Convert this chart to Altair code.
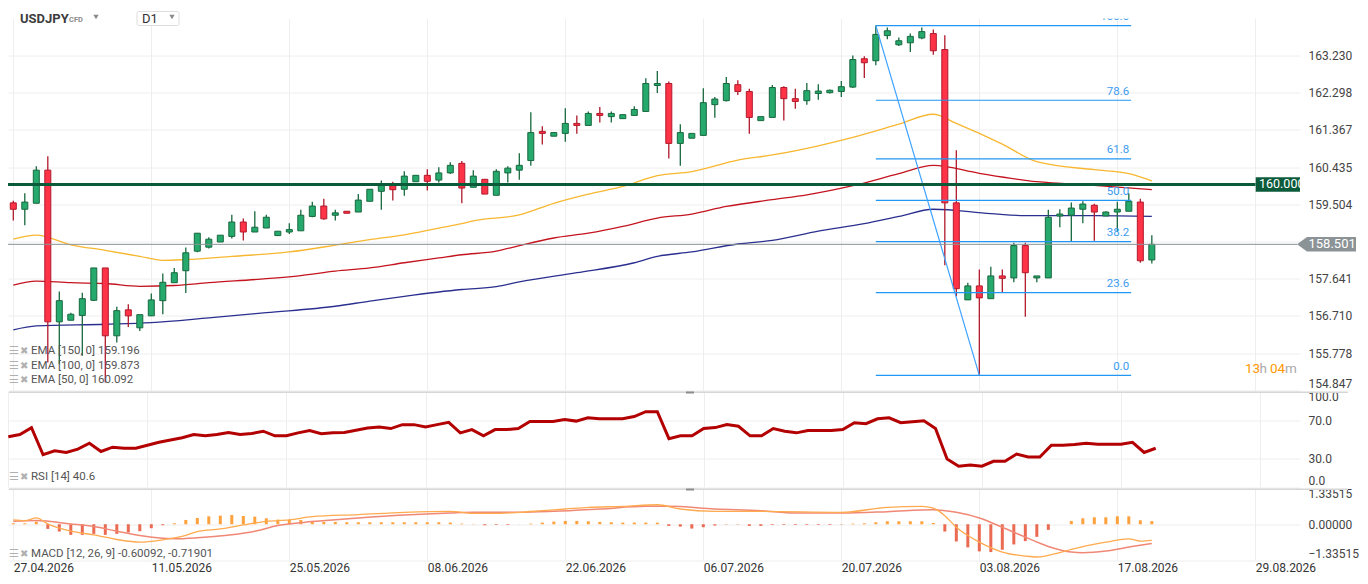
import altair as alt
import pandas as pd

FONT = "Roboto"

# ---------------- candles (USDJPY D1) ----------------
open_ = [159.54,159.38,159.53,160.36,156.56,156.60,156.72,157.10,157.91,156.21,
         156.86,156.41,156.71,157.09,157.54,157.84,158.33,158.43,158.56,158.70,
         159.06,158.81,158.91,158.72,158.81,158.84,159.20,159.46,159.23,159.33,
         159.31,159.58,159.83,159.97,159.88,160.07,160.23,160.11,160.29,160.53,
         159.93,160.13,159.73,160.29,160.36,160.60,161.33,161.21,161.28,161.53,
         161.48,161.78,161.70,161.65,161.73,161.83,162.48,162.53,161.03,161.16,
         161.23,162.00,162.10,162.50,162.33,161.60,161.68,162.43,162.15,162.10,
         162.28,162.30,162.33,162.44,163.15,163.10,163.73,163.50,163.55,163.67,
         163.78,163.38,159.54,157.11,157.46,157.14,157.71,157.66,158.47,157.66,
         157.66,159.21,159.23,159.38,159.48,159.21,159.31,159.33,159.56,158.11]
high_ = [159.59,159.78,160.46,160.71,157.32,156.79,157.29,157.91,157.91,156.94,
         157.00,156.74,157.27,157.77,157.91,158.42,158.78,158.68,158.73,159.24,
         159.15,159.33,159.24,158.83,159.03,159.37,159.57,159.64,159.37,159.33,
         159.76,159.88,160.10,160.07,160.33,160.23,160.38,160.43,160.56,160.59,
         160.36,160.13,160.38,160.46,160.78,161.81,161.46,161.30,161.91,161.73,
         161.83,161.94,161.83,161.75,161.96,162.66,162.84,162.58,161.51,161.28,
         162.41,162.19,162.69,162.61,162.40,161.70,162.49,162.46,162.40,162.54,
         162.51,162.38,162.59,163.23,163.21,163.98,163.93,163.68,163.78,163.93,
         163.88,163.74,160.86,157.54,157.87,157.94,157.87,158.54,158.54,157.71,
         159.37,159.38,159.55,159.58,159.52,159.33,159.57,159.78,159.64,158.73]
low_ = [159.10,158.98,159.53,155.54,155.50,156.60,155.71,157.08,155.04,156.04,
        156.43,156.33,156.71,156.75,157.54,157.28,158.30,158.40,158.56,158.65,
        158.60,158.81,158.91,158.72,158.76,158.84,159.18,159.12,159.10,159.28,
        159.31,159.58,159.37,159.60,159.72,160.07,159.85,160.05,160.26,159.53,
        159.93,159.76,159.73,160.05,160.12,160.47,161.00,161.21,161.07,161.27,
        161.48,161.55,161.55,161.65,161.73,161.83,162.29,160.65,160.47,161.16,
        161.23,161.67,162.08,162.24,161.27,161.60,161.68,161.60,161.90,162.00,
        162.12,162.28,162.19,162.42,162.67,162.99,163.64,163.47,163.32,163.64,
        163.25,157.98,157.20,157.11,155.22,157.14,157.29,157.55,156.69,157.55,
        157.66,158.93,158.56,159.03,158.59,159.21,158.81,159.33,158.04,158.02]
close_ = [159.38,159.56,160.36,156.56,157.09,156.75,157.14,157.91,156.21,156.84,
          156.71,156.74,157.11,157.55,157.79,158.29,158.78,158.63,158.73,159.06,
          158.81,158.93,159.18,158.83,158.87,159.23,159.46,159.14,159.29,159.28,
          159.61,159.88,160.02,159.87,160.21,160.23,160.08,160.29,160.48,159.91,
          160.21,159.76,160.33,160.41,160.48,161.30,161.28,161.30,161.53,161.48,
          161.78,161.73,161.78,161.75,161.88,162.53,162.53,161.03,161.30,161.28,
          162.05,162.14,162.53,162.33,161.68,161.70,162.43,162.15,162.08,162.35,
          162.34,162.36,162.45,163.13,163.05,163.76,163.85,163.60,163.71,163.83,
          163.35,159.54,157.39,157.46,157.16,157.71,157.65,158.47,157.79,157.71,
          159.18,159.26,159.41,159.51,159.31,159.31,159.38,159.58,158.09,158.501]

# ---------------- moving averages (read at sample candles) ----------------
ema50_i = [0,2,5,8,11,13,15,19,24,28,31,34,37,39,40,44,47,50,53,56,59,63,66,70,73,77,80,82,86,89,94,97,99]
ema50_v = [158.63,158.73,158.49,158.35,158.20,158.10,158.12,158.20,158.31,158.48,158.62,158.74,158.91,
           159.02,159.09,159.24,159.53,159.76,159.95,160.22,160.32,160.61,160.74,160.97,161.18,161.51,
           161.76,161.53,161.01,160.57,160.37,160.27,160.09]
ema100_i = [0,2,5,8,11,14,17,22,25,28,31,34,37,39,42,44,47,50,53,56,59,62,66,69,73,77,80,84,89,94,99]
ema100_v = [157.48,157.58,157.54,157.52,157.45,157.47,157.54,157.64,157.72,157.83,157.91,158.04,158.16,
            158.24,158.33,158.47,158.66,158.78,158.95,159.16,159.26,159.45,159.62,159.74,159.97,160.27,
            160.48,160.28,160.07,159.98,159.87]
ema150_i = [0,2,8,12,17,22,28,31,34,39,42,44,49,54,56,59,63,66,70,74,77,80,85,88,94,99]
ema150_v = [156.36,156.46,156.50,156.54,156.66,156.79,156.95,157.08,157.20,157.37,157.44,157.56,157.79,
            158.04,158.20,158.31,158.51,158.60,158.83,159.02,159.20,159.38,159.27,159.22,159.22,159.20]

# ---------------- RSI(14) ----------------
rsi_v = [52.6,55.0,62.2,33.8,37.9,36.2,39.6,45.8,37.2,41.7,
         40.6,40.6,43.7,46.8,49.2,51.6,55.0,53.6,55.0,57.1,
         55.0,56.0,58.4,53.6,53.6,56.7,59.1,55.7,56.7,57.1,
         59.5,61.8,62.9,61.2,65.3,65.3,62.9,65.3,67.7,56.7,
         60.1,53.6,60.1,60.1,61.2,68.7,68.7,68.7,70.7,69.0,
         72.4,71.4,71.4,71.4,73.8,78.9,78.9,50.6,53.6,53.6,
         61.2,62.2,65.3,63.6,53.6,53.6,61.2,58.4,56.7,59.1,
         59.1,59.1,60.1,67.3,66.3,71.4,72.4,67.3,68.3,69.4,
         61.2,29.4,21.8,22.9,21.8,26.9,26.9,34.5,31.4,31.4,
         43.7,43.7,44.4,45.8,44.7,44.7,44.7,46.8,36.2,40.6]

# ---------------- MACD(12,26,9) ----------------
hist_v = [0.037,0.037,0.099,-0.173,-0.272,-0.396,-0.396,-0.359,-0.396,-0.359,
          -0.309,-0.260,-0.148,-0.037,0.037,0.161,0.235,0.297,0.321,0.346,
          0.309,0.284,0.223,0.173,0.173,0.161,0.124,0.087,0.087,0.074,
          0.074,0.074,0.074,0.074,0.074,0.074,0.074,0.074,0.062,0.025,
          0.012,-0.037,-0.025,-0.025,0.005,0.025,0.062,0.099,0.124,0.124,
          0.111,0.087,0.074,0.062,0.062,0.062,0.062,-0.062,-0.087,-0.161,
          -0.111,-0.049,-0.012,-0.012,-0.062,-0.062,-0.025,-0.025,-0.025,-0.025,
          -0.025,-0.025,-0.012,0.025,0.037,0.074,0.111,0.111,0.111,0.111,
          0.049,-0.272,-0.643,-0.865,-1.014,-1.039,-0.952,-0.754,-0.630,-0.470,
          -0.210,0.0,0.124,0.223,0.260,0.260,0.297,0.297,0.148,0.118]
macd_i = [0,1,2,3,5,7,9,11,13,15,16,18,20,22,24,26,30,34,38,40,42,44,46,48,50,53,56,58,61,65,72,76,79,80,81,82,83,84,86,88,89,90,91,92,95,97,98,99]
macd_v = [0.161,0.136,0.235,0.012,-0.260,-0.396,-0.569,-0.668,-0.581,-0.420,-0.272,-0.173,-0.025,0.111,0.161,
          0.285,0.359,0.445,0.482,0.408,0.408,0.445,0.507,0.569,0.631,0.668,0.729,0.569,0.482,0.482,0.445,
          0.631,0.668,0.606,0.321,-0.111,-0.420,-0.668,-1.039,-1.187,-1.224,-1.162,-1.063,-0.940,-0.668,
          -0.544,-0.631,-0.601]
sig_i = [0,2,5,7,9,11,14,16,19,21,23,26,30,34,38,40,44,47,51,55,57,61,65,68,72,76,80,82,84,86,88,90,92,93,95,97,99]
sig_v = [0.111,0.136,0.012,-0.087,-0.260,-0.420,-0.544,-0.507,-0.396,-0.260,-0.049,0.099,0.235,0.346,0.420,
         0.445,0.445,0.482,0.569,0.668,0.668,0.569,0.507,0.420,0.420,0.470,0.544,0.445,0.235,-0.111,-0.482,
         -0.828,-1.039,-1.063,-1.001,-0.853,-0.719]

# ---------------- Fibonacci retracement ----------------
fib_levels = ["0.0", "23.6", "38.2", "50.0", "61.8", "78.6", "100.0"]
fib_prices = [155.22, 157.29, 158.57, 159.60, 160.64, 162.11, 163.98]
fib_from, fib_to = 75, 97.2
swing_i = [75, 84]
swing_p = [163.98, 155.22]

level_price = 160.0
last_price = 158.501

# ---------------- axes ----------------
tick_idx = [0, 12, 24, 36, 48, 60, 72, 84, 96, 108]
tick_lbl = ["27.04.2026", "11.05.2026", "25.05.2026", "08.06.2026", "22.06.2026",
            "06.07.2026", "20.07.2026", "03.08.2026", "17.08.2026", "29.08.2026"]
price_ticks = [163.230, 162.298, 161.367, 160.435, 159.504, 158.573, 157.641, 156.710, 155.778, 154.847]
rsi_ticks = [0, 30, 70, 100]
macd_ticks = [-1.33515, 0, 1.33515]

W = 1292
H_PRICE = 372
H_RSI = 95.5
H_MACD = 71.5
GRID = "#eeeeee"
SEP = "#d6d6d6"

GREEN_FILL, GREEN_LINE = "#26a96c", "#17683f"
RED_FILL, RED_LINE = "#ff3347", "#b0192b"

n = len(close_)
candles = pd.DataFrame({"i": list(range(n)), "o": open_, "h": high_, "l": low_, "c": close_})
candles["dir"] = ["up" if cc >= oo else "down" for oo, cc in zip(open_, close_)]
up_c = candles[candles["dir"] == "up"]
dn_c = candles[candles["dir"] == "down"]

xscale = alt.Scale(domain=[-0.026, 111.45], nice=False, zero=False)
lbl_js = "[" + ",".join("'%s'" % s for s in tick_lbl) + "][round(datum.value / 12)]"
ax_x_plain = alt.Axis(values=tick_idx, labels=False, ticks=False, domain=False, grid=True,
                      gridColor=GRID, title=None)
ax_x_lab = alt.Axis(values=tick_idx, labelExpr=lbl_js, labelAlign="left", labelPadding=2,
                    labelFontSize=12, labelColor="#333333", labelOverlap=False, labelFlush=False,
                    ticks=False, domain=False, grid=True, gridColor=GRID, title=None)


def X(field, axis=ax_x_plain):
    return alt.X(field, scale=xscale, axis=axis, title=None)


pscale = alt.Scale(domain=[154.84, 164.158], nice=False, zero=False)
ax_p = alt.Axis(orient="right", values=price_ticks,
                labelExpr="abs(datum.value - 158.573) < 0.0005 ? '' : format(datum.value, '.3f')",
                labelAlign="left", labelPadding=8, labelFontSize=12, labelColor="#444444",
                labelFlush=True, labelOverlap=False, ticks=False, domain=False, grid=True,
                gridColor=GRID, title=None)


def YP(field):
    return alt.Y(field, scale=pscale, axis=ax_p, title=None)


one = pd.DataFrame({"k": [0]})

# ---- price panel layers ----
def ema_layer(ii, vv, color):
    df = pd.DataFrame({"i": ii, "v": vv})
    return alt.Chart(df).mark_line(color=color, strokeWidth=1.3, clip=True, interpolate="monotone").encode(
        x=X("i:Q"), y=YP("v:Q"))


ema150 = ema_layer(ema150_i, ema150_v, "#2b2f8f")
ema100 = ema_layer(ema100_i, ema100_v, "#c4141f")
ema50 = ema_layer(ema50_i, ema50_v, "#f7b731")


def candle_layers(df, fill, line):
    wick = alt.Chart(df).mark_rule(strokeWidth=1.3, color=line, clip=True).encode(
        x=X("i:Q"), y=YP("l:Q"), y2="h:Q")
    body = alt.Chart(df).mark_bar(width=6, strokeWidth=1, fill=fill, stroke=line, clip=True).encode(
        x=X("i:Q"), y=YP("o:Q"), y2="c:Q")
    return [wick, body]


fib_df = pd.DataFrame({"lvl": fib_levels, "p": fib_prices, "x0": [fib_from] * len(fib_levels),
                       "x1": [fib_to] * len(fib_levels)})
fib_lines = alt.Chart(fib_df).mark_rule(color="#2196f3", strokeWidth=1.2, clip=True).encode(
    x=X("x0:Q"), x2="x1:Q", y=YP("p:Q"))
fib_text = alt.Chart(fib_df).mark_text(color="#3d9bf0", fontSize=11.5, align="right", baseline="middle",
                                       dx=-2, dy=-8.5, clip=True).encode(
    x=X("x1:Q"), y=YP("p:Q"), text="lvl:N")
swing = alt.Chart(pd.DataFrame({"i": swing_i, "p": swing_p})).mark_line(
    color="#3ea2ff", strokeWidth=1.2, clip=True).encode(x=X("i:Q"), y=YP("p:Q"))

# 160.000 horizontal level with its tag
lvl_df = pd.DataFrame({"v": [level_price], "t": ["%.3f" % level_price]})
DKG = "#0b5a3a"
lvl_line = alt.Chart(lvl_df).mark_rule(color=DKG, strokeWidth=3, clip=True).encode(
    x=alt.value(0), x2=alt.value(1247.5), y=YP("v:Q"))
lvl_box = alt.Chart(lvl_df).mark_point(shape="M-1,-0.332L1,-0.332L1,0.332L-1,0.332Z", size=1962,
                                       filled=True, color=DKG, opacity=1, strokeWidth=0).encode(
    x=alt.value(1269.85), y=YP("v:Q"))
lvl_txt = alt.Chart(lvl_df).mark_text(color="white", fontSize=12.5, align="left", baseline="middle",
                                      clip=True).encode(
    x=alt.value(1251), y=YP("v:Q"), text="t:N")

# last price line with its tag
last_df = pd.DataFrame({"v": [last_price], "t": ["%.3f" % last_price]})
GRAYP = "#8b9397"
last_line = alt.Chart(last_df).mark_rule(color=GRAYP, strokeWidth=1, clip=True).encode(
    x=alt.value(0), x2=alt.value(1289), y=YP("v:Q"))
last_box = alt.Chart(last_df).mark_point(shape="M-1,0L-0.661,-0.2458L1,-0.2458L1,0.2458L-0.661,0.2458Z",
                                         size=3481, filled=True, color=GRAYP, opacity=1,
                                         strokeWidth=0).encode(
    x=alt.value(1318.5), y=YP("v:Q"))
last_txt = alt.Chart(last_df).mark_text(color="white", fontSize=13, align="left", baseline="middle").encode(
    x=alt.value(1300.5), y=YP("v:Q"), text="t:N")


def label(text, x, y, size=12, color="#555555", weight="normal", align="left"):
    return alt.Chart(one).mark_text(text=text, fontSize=size, color=color, fontWeight=weight,
                                    align=align, baseline="middle").encode(x=alt.value(x), y=alt.value(y))


def tri(x, y):
    return alt.Chart(one).mark_point(shape="triangle-down", size=28, filled=True, color="#8a8a8a",
                                     opacity=1, strokeWidth=0).encode(x=alt.value(x), y=alt.value(y))


d1_box = alt.Chart(one).mark_rect(fill="white", stroke="#dddddd", strokeWidth=1, cornerRadius=2).encode(
    x=alt.value(129), x2=alt.value(171), y=alt.value(-7), y2=alt.value(7))

ICON = "#b0b0b0"
price_texts = [
    label("USDJPY", 12, 0, size=13, color="#3c3c3c", weight="bold"),
    label("CFD", 61, 1, size=7.5, color="#8a8a8a", weight="bold"),
    tri(88, -1.5),
    d1_box,
    label("D1", 134, 0.5, size=13, color="#333333"),
    tri(164, -1.5),
    label("☰", 1, 332.7, size=11, color=ICON),
    label("✖", 12, 332.7, size=10, color=ICON),
    label("EMA [150, 0] 159.196", 23, 332.7, size=11.5),
    label("☰", 1, 347.7, size=11, color=ICON),
    label("✖", 12, 347.7, size=10, color=ICON),
    label("EMA [100, 0] 159.873", 23, 347.7, size=11.5),
    label("☰", 1, 361.5, size=11, color=ICON),
    label("✖", 12, 361.5, size=10, color=ICON),
    label("EMA [50, 0] 160.092", 23, 361.5, size=11.5),
    label("13", 1237, 350.7, size=13.5, color="#ff9800"),
    label("h", 1251.5, 350.7, size=13.5, color="#a9a9a9"),
    label("04", 1262, 350.7, size=13.5, color="#ff9800"),
    label("m", 1277, 350.7, size=13.5, color="#a9a9a9"),
]

price = alt.layer(ema150, ema100, ema50, *candle_layers(up_c, GREEN_FILL, GREEN_LINE),
                  *candle_layers(dn_c, RED_FILL, RED_LINE), fib_lines, swing,
                  lvl_line, lvl_box, lvl_txt, fib_text, last_line, last_box, last_txt,
                  *price_texts).properties(width=W, height=H_PRICE)

# ---- RSI panel ----
rscale = alt.Scale(domain=[0, 100], nice=False, zero=False)
ax_r = alt.Axis(orient="right", values=rsi_ticks, labelExpr="format(datum.value, '.1f')",
                labelAlign="left", labelPadding=8, labelFontSize=12, labelColor="#444444",
                labelFlush=True, labelOverlap=False, ticks=False, domain=False, grid=True,
                gridColor=GRID, title=None)
rsi_df = pd.DataFrame({"i": list(range(len(rsi_v))), "v": rsi_v})
rsi_line = alt.Chart(rsi_df).mark_line(color="#b30000", strokeWidth=3, clip=True).encode(
    x=X("i:Q"), y=alt.Y("v:Q", scale=rscale, axis=ax_r, title=None))


def sep_layers():
    return [
        alt.Chart(one).mark_rule(color=SEP, strokeWidth=1.5).encode(
            x=alt.value(1), x2=alt.value(1340), y=alt.value(0.8)),
        alt.Chart(one).mark_rule(color="#8c8c8c", strokeWidth=2).encode(
            x=alt.value(678), x2=alt.value(686), y=alt.value(1)),
    ]


rsi = alt.layer(rsi_line, *sep_layers(),
                label("☰", 1, 85, size=11, color=ICON),
                label("✖", 12, 85, size=10, color=ICON),
                label("RSI [14] 40.6", 23, 85, size=11.5)).properties(width=W, height=H_RSI)

# ---- MACD panel ----
mscale = alt.Scale(domain=[-1.33515, 1.33515], nice=False, zero=False)
ax_m = alt.Axis(orient="right", values=macd_ticks, labelExpr="format(datum.value, '.5f')",
                labelAlign="left", labelPadding=8, labelFontSize=12, labelColor="#444444",
                labelFlush=True, labelOverlap=False, ticks=False, domain=False, grid=True,
                gridColor=GRID, title=None)


def YM(field):
    return alt.Y(field, scale=mscale, axis=ax_m, title=None)


hist_df = pd.DataFrame({"i": list(range(len(hist_v))), "v": hist_v})
hist_pos = hist_df[hist_df["v"] >= 0]
hist_neg = hist_df[hist_df["v"] < 0]
bars_pos = alt.Chart(hist_pos).mark_bar(width=3, color="#ffa13d", clip=True).encode(
    x=X("i:Q", ax_x_lab), y=YM("v:Q"), y2=alt.Y2(datum=0))
bars_neg = alt.Chart(hist_neg).mark_bar(width=3, color="#ea6b52", clip=True).encode(
    x=X("i:Q", ax_x_lab), y=YM("v:Q"), y2=alt.Y2(datum=0))
sig_line = alt.Chart(pd.DataFrame({"i": sig_i, "v": sig_v})).mark_line(
    color="#f08875", strokeWidth=1.5, clip=True, interpolate="monotone").encode(x=X("i:Q", ax_x_lab), y=YM("v:Q"))
macd_line = alt.Chart(pd.DataFrame({"i": macd_i, "v": macd_v})).mark_line(
    color="#ffaa4f", strokeWidth=1.3, clip=True, interpolate="monotone").encode(x=X("i:Q", ax_x_lab), y=YM("v:Q"))

macd = alt.layer(bars_pos, bars_neg, sig_line, macd_line, *sep_layers(),
                 label("☰", 1, 65, size=11, color=ICON),
                 label("✖", 12, 65, size=10, color=ICON),
                 label("MACD [12, 26, 9] -0.60092, -0.71901", 23, 65, size=11.5)
                 ).properties(width=W, height=H_MACD)

chart = alt.vconcat(price, rsi, macd, spacing=0).configure(
    font=FONT, padding={"top": 2.5, "left": 0, "right": 0, "bottom": 0}
).configure_view(strokeWidth=0).configure_axis(labelFont=FONT)

chart.save("out.html", embed_options={"renderer": "svg", "actions": False})
